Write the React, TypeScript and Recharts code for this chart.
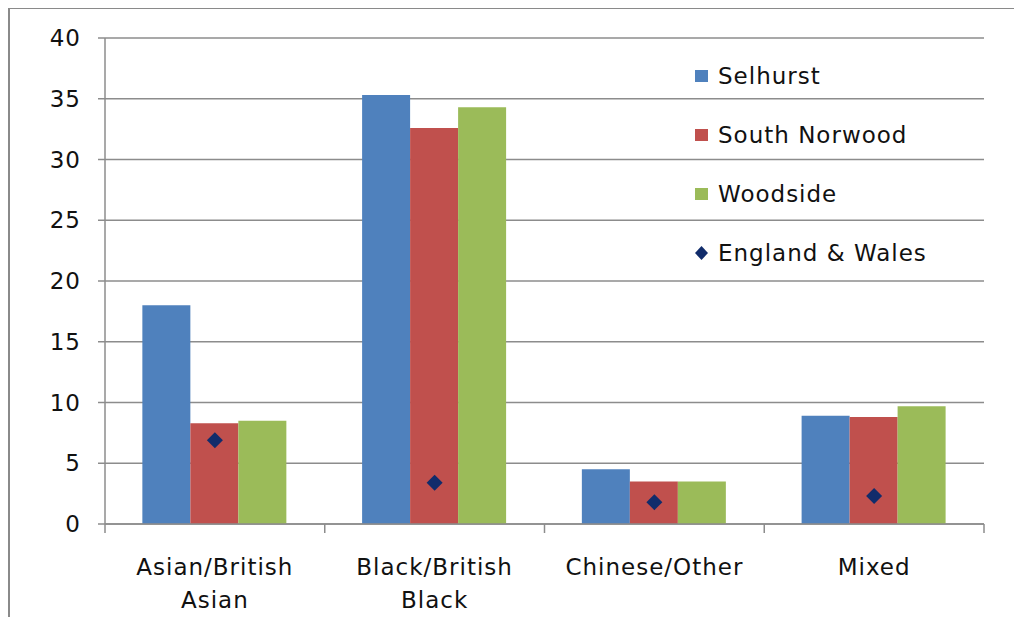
import { ComposedChart, Bar, Scatter, XAxis, YAxis, CartesianGrid } from 'recharts';

const categories = ['Asian/British Asian', 'Black/British Black', 'Chinese/Other', 'Mixed'];
const selhurst = [18.0, 35.3, 4.5, 8.9];
const southNorwood = [8.3, 32.6, 3.5, 8.8];
const woodside = [8.5, 34.3, 3.5, 9.7];
const englandWales = [6.9, 3.4, 1.8, 2.3];
const yTicks = [0, 5, 10, 15, 20, 25, 30, 35, 40];
const boundaryTicks = [0, 1, 2, 3, 4];

const FONT = '"DejaVu Sans", sans-serif';
const GRID = '#8c8c8c';
const TEXT = '#111';

const series = [
  { key: 'selhurst', name: 'Selhurst', color: '#4F81BD', type: 'bar' },
  { key: 'southNorwood', name: 'South Norwood', color: '#C0504D', type: 'bar' },
  { key: 'woodside', name: 'Woodside', color: '#9BBB59', type: 'bar' },
  { key: 'englandWales', name: 'England & Wales', color: '#112C6B', type: 'point' },
];

const data = categories.map((c, i) => ({
  category: c,
  pos: i + 0.5,
  selhurst: selhurst[i],
  southNorwood: southNorwood[i],
  woodside: woodside[i],
  englandWales: englandWales[i],
}));

const CategoryTick = (props: any) => {
  const { x, y, payload } = props;
  const words = String(payload.value).split(' ');
  return (
    <text x={x} y={y} textAnchor="middle" fontFamily={FONT} fontSize={23} letterSpacing={1} fill={TEXT}>
      {words.map((w, i) => (
        <tspan key={i} x={x} dy={i === 0 ? 34 : 33} dominantBaseline="central">
          {w}
        </tspan>
      ))}
    </text>
  );
};

const EmptyTick = () => <g />;

const Diamond = (props: any) => {
  const { cx, cy, fill } = props;
  const r = 8;
  return <polygon points={`${cx},${cy - r} ${cx + r},${cy} ${cx},${cy + r} ${cx - r},${cy}`} fill={fill} />;
};

const LegendBox = () => (
  <div
    style={{
      position: 'absolute',
      left: 685,
      top: 37,
      fontFamily: FONT,
      fontSize: 23,
      letterSpacing: 1,
      color: TEXT,
    }}
  >
    {series.map((s) => (
      <div key={s.key} style={{ display: 'flex', alignItems: 'center', height: 59 }}>
        <svg width={23} height={14}>
          {s.type === 'bar' ? (
            <rect x={0} y={1} width={13} height={12} fill={s.color} />
          ) : (
            <polygon points="6.5,0 13,7 6.5,14 0,7" fill={s.color} />
          )}
        </svg>
        <span>{s.name}</span>
      </div>
    ))}
  </div>
);

export default function App() {
  return (
    <div
      style={{
        position: 'relative',
        width: 1013,
        height: 608,
        borderTop: '1px solid #8a8a8a',
        borderLeft: '2px solid #8a8a8a',
        background: '#fff',
      }}
    >
      <ComposedChart
        width={1012}
        height={608}
        data={data}
        margin={{ top: 29, right: 38, left: 0, bottom: 0 }}
        barCategoryGap="17%"
        barGap={0}
      >
        <CartesianGrid xAxisId="cat" vertical={false} stroke={GRID} strokeWidth={1.5} />
        <XAxis
          dataKey="pos"
          type="number"
          domain={[0, 4]}
          ticks={boundaryTicks}
          interval={0}
          height={1}
          axisLine={{ stroke: GRID, strokeWidth: 1.5 }}
          tick={<EmptyTick />}
          tickSize={9}
          tickLine={{ stroke: GRID, strokeWidth: 1.5 }}
        />
        <XAxis
          xAxisId="cat"
          dataKey="category"
          height={92}
          interval={0}
          tickLine={false}
          axisLine={false}
          tick={<CategoryTick />}
        />
        <YAxis
          width={95}
          domain={[0, 40]}
          ticks={yTicks}
          interval={0}
          tickSize={7}
          tickMargin={17}
          axisLine={{ stroke: GRID, strokeWidth: 1.5 }}
          tickLine={{ stroke: GRID, strokeWidth: 1.5 }}
          tick={{ fontFamily: FONT, fontSize: 23, letterSpacing: 1, fill: TEXT }}
        />
        {series
          .filter((s) => s.type === 'bar')
          .map((s) => (
            <Bar
              key={s.key}
              xAxisId="cat"
              dataKey={s.key}
              name={s.name}
              fill={s.color}
              isAnimationActive={false}
            />
          ))}
        <Scatter
          xAxisId="cat"
          dataKey="englandWales"
          name="England & Wales"
          fill="#112C6B"
          shape={<Diamond />}
          isAnimationActive={false}
        />
      </ComposedChart>
      <LegendBox />
    </div>
  );
}
